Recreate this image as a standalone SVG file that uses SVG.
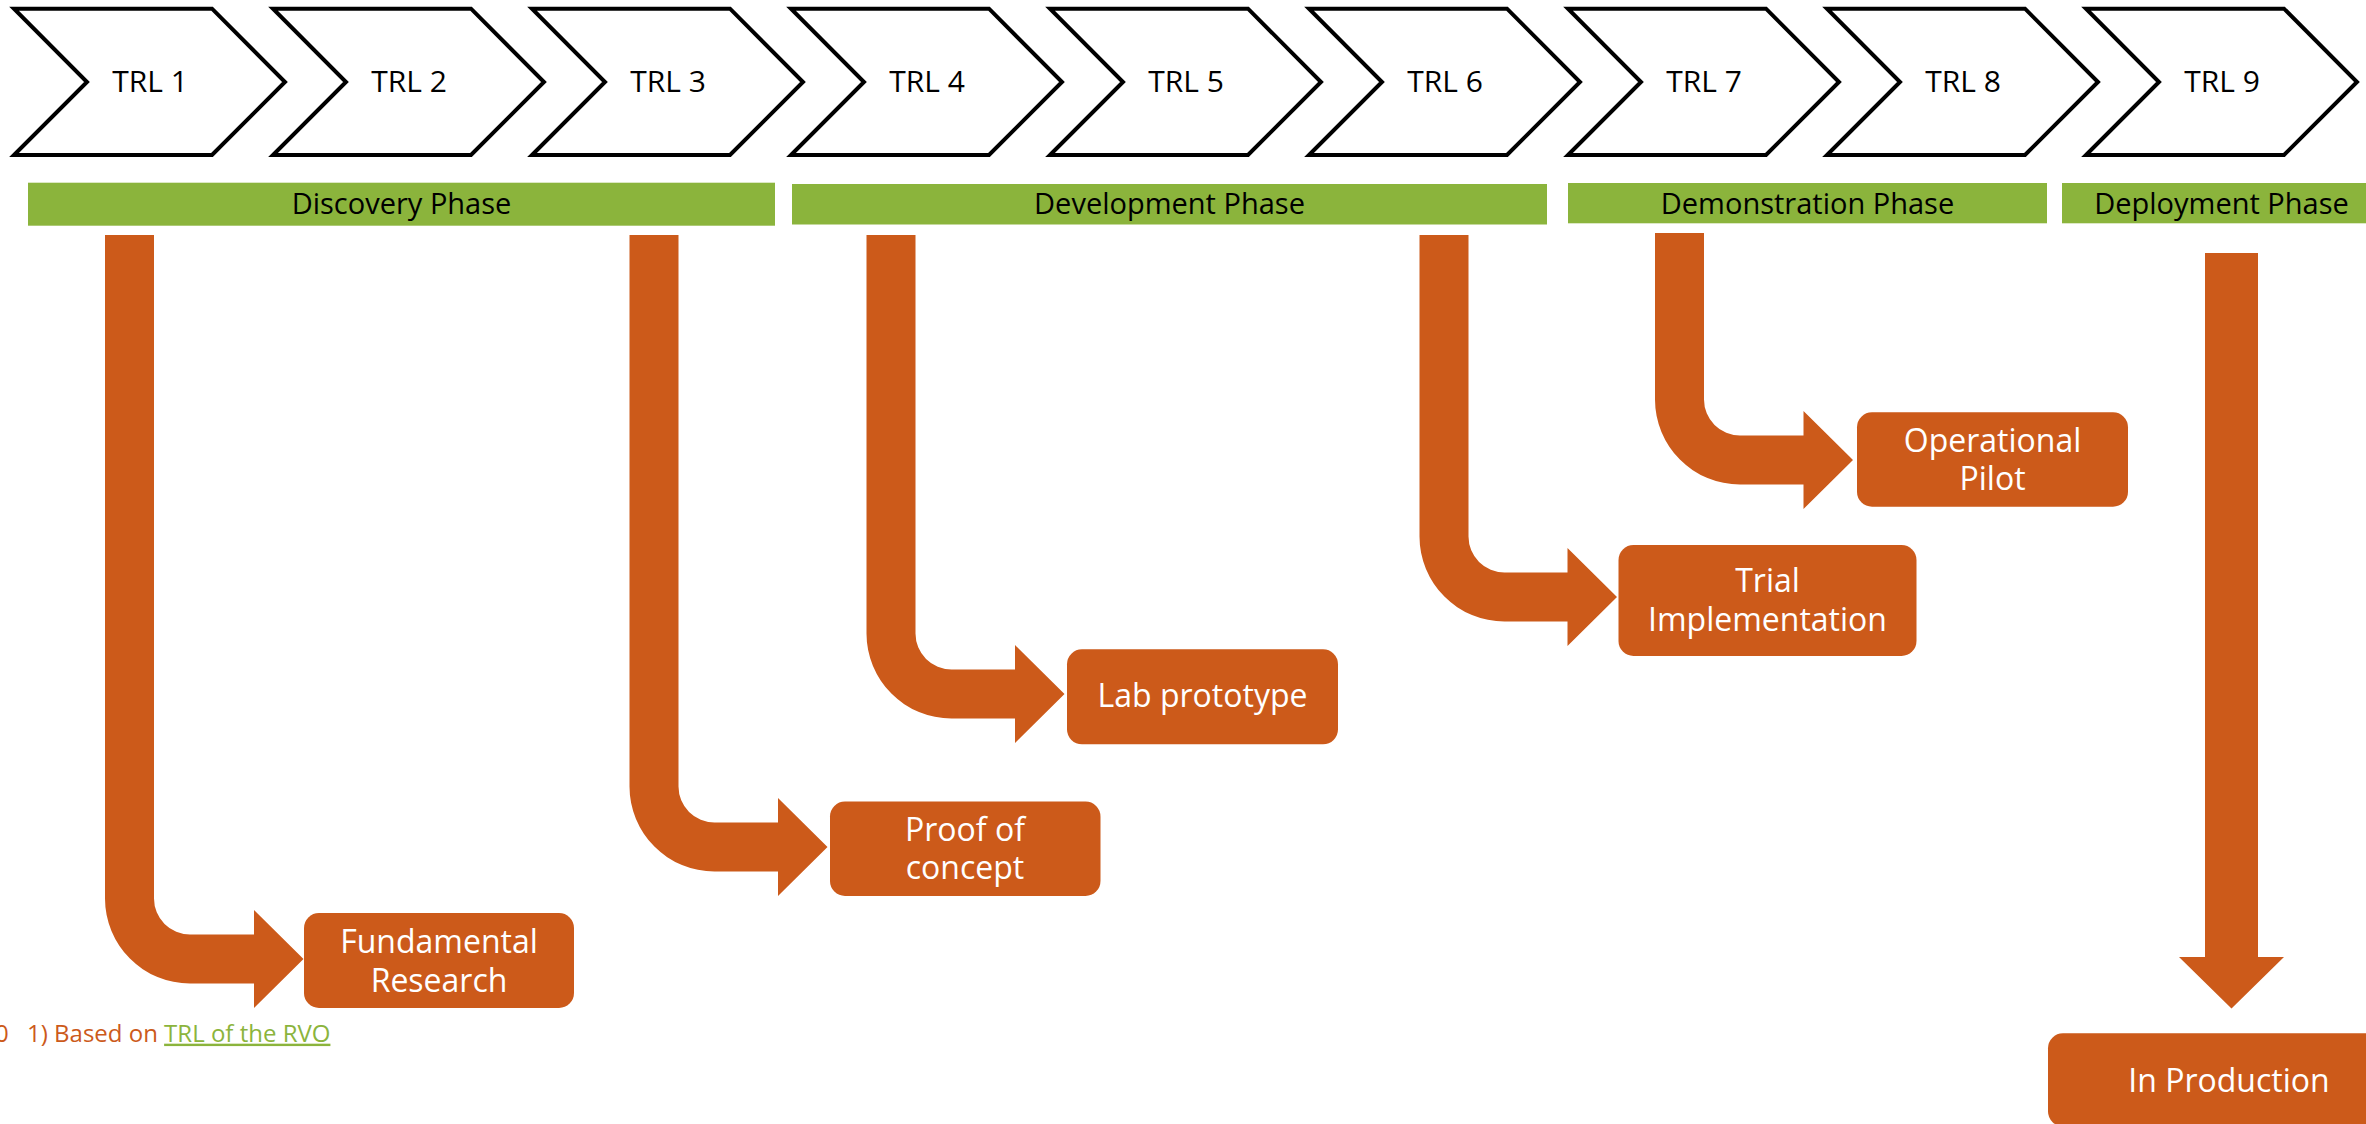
<svg xmlns="http://www.w3.org/2000/svg" width="2366" height="1124" viewBox="0 0 2366 1124">
  <style>
    .chev { fill: #ffffff; stroke: #000000; stroke-width: 4; stroke-linejoin: miter; }
    .chev-label { font-family: "Open Sans", "Noto Sans", sans-serif; font-size: 30px; fill: #000000; text-anchor: middle; }
    .phase { fill: #8bb43c; }
    .phase-label { font-family: "Open Sans", "Noto Sans", sans-serif; font-size: 29px; fill: #000000; text-anchor: middle; }
    .step { fill: #cc5a1a; }
    .step-label { font-family: "Open Sans", "Noto Sans", sans-serif; font-size: 32px; fill: #ffffff; text-anchor: middle; }
    .flow { fill: #cc5a1a; }
    .note { font-family: "Open Sans", "Noto Sans", sans-serif; font-size: 24px; fill: #cc5a1a; }
    .link { fill: #8bb43c; text-decoration: underline; }
  </style>
  <defs>
    <polygon id="chevron" points="0,8.7 198,8.7 271,82 198,155 0,155 73,82"/>
  </defs>

  <rect width="2366" height="1124" fill="#ffffff"/>

  <!-- Technology readiness levels -->
  <g id="trl1"><use href="#chevron" class="chev" x="14"/><text class="chev-label" x="150" y="92">TRL 1</text></g>
  <g id="trl2"><use href="#chevron" class="chev" x="273"/><text class="chev-label" x="409" y="92">TRL 2</text></g>
  <g id="trl3"><use href="#chevron" class="chev" x="532"/><text class="chev-label" x="668" y="92">TRL 3</text></g>
  <g id="trl4"><use href="#chevron" class="chev" x="791"/><text class="chev-label" x="927" y="92">TRL 4</text></g>
  <g id="trl5"><use href="#chevron" class="chev" x="1050"/><text class="chev-label" x="1186" y="92">TRL 5</text></g>
  <g id="trl6"><use href="#chevron" class="chev" x="1309"/><text class="chev-label" x="1445" y="92">TRL 6</text></g>
  <g id="trl7"><use href="#chevron" class="chev" x="1568"/><text class="chev-label" x="1704" y="92">TRL 7</text></g>
  <g id="trl8"><use href="#chevron" class="chev" x="1827"/><text class="chev-label" x="1963" y="92">TRL 8</text></g>
  <g id="trl9"><use href="#chevron" class="chev" x="2086"/><text class="chev-label" x="2222" y="92">TRL 9</text></g>

  <!-- Phases -->
  <g id="phase-discovery"><rect class="phase" x="28" y="182.7" width="747" height="43"/><text class="phase-label" x="401.5" y="213.5">Discovery Phase</text></g>
  <g id="phase-development"><rect class="phase" x="792" y="184" width="755" height="40.5"/><text class="phase-label" x="1169.5" y="213.5">Development Phase</text></g>
  <g id="phase-demonstration"><rect class="phase" x="1568" y="183" width="479" height="40.3"/><text class="phase-label" x="1807.5" y="213.5">Demonstration Phase</text></g>
  <g id="phase-deployment"><rect class="phase" x="2062" y="183" width="319" height="40.3"/><text class="phase-label" x="2221.5" y="213.5">Deployment Phase</text></g>

  <!-- Connectors: bent block arrows from each level down to its outcome -->
  <g id="connectors">
    <path class="flow" d="M105,235 H154 V898.5 A36,36 0 0 0 190,934.5 H254 V910 L303.5,959 L254,1008 V983.5 H190 A85,85 0 0 1 105,898.5 Z"/>
    <path class="flow" d="M629.5,235 H678.5 V786.5 A36,36 0 0 0 714.5,822.5 H778 V798 L827.5,847 L778,896 V871.5 H714.5 A85,85 0 0 1 629.5,786.5 Z"/>
    <path class="flow" d="M866.5,235 H915.5 V633.5 A36,36 0 0 0 951.5,669.5 H1015 V645 L1064.5,694 L1015,743 V718.5 H951.5 A85,85 0 0 1 866.5,633.5 Z"/>
    <path class="flow" d="M1419.5,235 H1468.5 V536.5 A36,36 0 0 0 1504.5,572.5 H1567.5 V548 L1617,597 L1567.5,646 V621.5 H1504.5 A85,85 0 0 1 1419.5,536.5 Z"/>
    <path class="flow" d="M1655,233 H1704 V399.5 A36,36 0 0 0 1740,435.5 H1803.5 V411 L1853,460 L1803.5,509 V484.5 H1740 A85,85 0 0 1 1655,399.5 Z"/>
    <path class="flow" d="M2205,253 H2258 V957 H2284 L2231.5,1008.5 L2179,957 H2205 Z"/>
  </g>

  <!-- Outcomes -->
  <g id="fundamental-research">
    <rect class="step" x="304" y="913" width="270" height="95" rx="15"/>
    <text class="step-label" x="439" y="952.7">Fundamental</text>
    <text class="step-label" x="439" y="991.7">Research</text>
  </g>
  <g id="proof-of-concept">
    <rect class="step" x="830" y="801.5" width="270.5" height="94.5" rx="15"/>
    <text class="step-label" x="965" y="840.7">Proof of</text>
    <text class="step-label" x="965" y="879.3">concept</text>
  </g>
  <g id="lab-prototype">
    <rect class="step" x="1067" y="649.3" width="271" height="95" rx="15"/>
    <text class="step-label" x="1202.5" y="707.3">Lab prototype</text>
  </g>
  <g id="trial-implementation">
    <rect class="step" x="1618.5" y="545" width="298" height="111" rx="15"/>
    <text class="step-label" x="1767.5" y="591.7">Trial</text>
    <text class="step-label" x="1767.5" y="630.7">Implementation</text>
  </g>
  <g id="operational-pilot">
    <rect class="step" x="1857" y="412.3" width="271" height="94.4" rx="15"/>
    <text class="step-label" x="1992.5" y="451.7">Operational</text>
    <text class="step-label" x="1992.5" y="490">Pilot</text>
  </g>
  <g id="in-production">
    <rect class="step" x="2048" y="1033.3" width="362" height="93" rx="15"/>
    <text class="step-label" x="2229" y="1091.7">In Production</text>
  </g>

  <!-- Footnote -->
  <text class="note" x="-5" y="1041.7">0</text>
  <text class="note" x="27" y="1041.7">1) Based on <tspan class="link">TRL of the RVO</tspan></text>
</svg>
